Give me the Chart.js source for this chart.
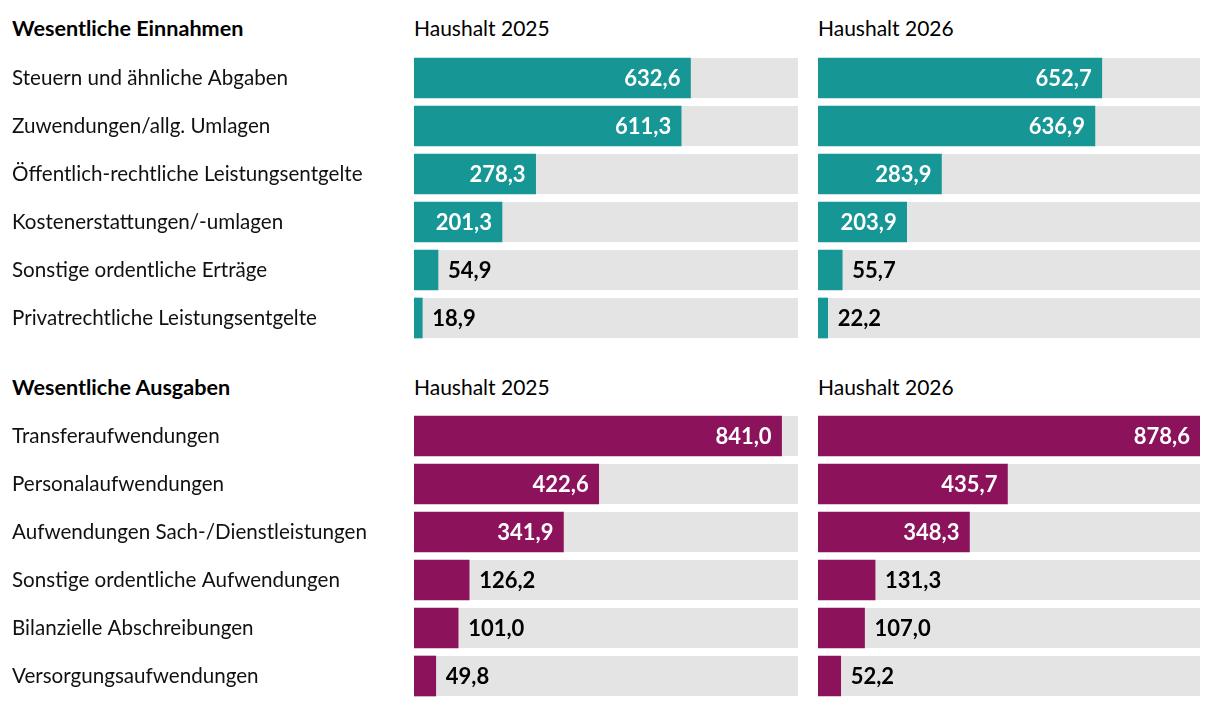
<!DOCTYPE html>
<html>
<head>
<meta charset="utf-8">
<script src="https://cdn.jsdelivr.net/npm/chart.js@4/dist/chart.umd.min.js"></script>
<style>
  body { margin: 0; background: #fff; }
  #wrap { position: relative; width: 1220px; height: 708px; font-family: Lato, sans-serif; color: #000; }
  .head { position: absolute; font-size: 21px; line-height: 24px; white-space: nowrap; }
  .bold { font-weight: bold; font-size: 21.6px; }
  canvas { position: absolute; }
</style>
</head>
<body>
<div id="wrap">
  <div class="head bold" id="t1" style="left:12px;top:16px"></div>
  <div class="head" id="y1a" style="left:414px;top:16px"></div>
  <div class="head" id="y1b" style="left:818px;top:16px"></div>
  <canvas id="c1a" width="798" height="288" style="left:0;top:54px"></canvas>
  <canvas id="c1b" width="382" height="288" style="left:818px;top:54px"></canvas>

  <div class="head bold" id="t2" style="left:12px;top:375px"></div>
  <div class="head" id="y2a" style="left:414px;top:375px"></div>
  <div class="head" id="y2b" style="left:818px;top:375px"></div>
  <canvas id="c2a" width="798" height="288" style="left:0;top:412px"></canvas>
  <canvas id="c2b" width="382" height="288" style="left:818px;top:412px"></canvas>
</div>
<script>
const sectionTitles = ['Wesentliche Einnahmen', 'Wesentliche Ausgaben']
const yearLabels = ['Haushalt 2025', 'Haushalt 2026']

const einnahmenLabels = [
  'Steuern und ähnliche Abgaben',
  'Zuwendungen/allg. Umlagen',
  'Öffentlich-rechtliche Leistungsentgelte',
  'Kostenerstattungen/-umlagen',
  'Sonstige ordentliche Erträge',
  'Privatrechtliche Leistungsentgelte'
]
const einnahmen2025 = [632.6, 611.3, 278.3, 201.3, 54.9, 18.9]
const einnahmen2026 = [652.7, 636.9, 283.9, 203.9, 55.7, 22.2]

const ausgabenLabels = [
  'Transferaufwendungen',
  'Personalaufwendungen',
  'Aufwendungen Sach-/Dienstleistungen',
  'Sonstige ordentliche Aufwendungen',
  'Bilanzielle Abschreibungen',
  'Versorgungsaufwendungen'
]
const ausgaben2025 = [841.0, 422.6, 341.9, 126.2, 101.0, 49.8]
const ausgaben2026 = [878.6, 435.7, 348.3, 131.3, 107.0, 52.2]

const scaleMax = 878.6
const fontFamily = 'Lato, sans-serif'
const teal = '#169694'
const purple = '#8c125c'
const track = '#e4e4e4'

document.getElementById('t1').textContent = sectionTitles[0]
document.getElementById('t2').textContent = sectionTitles[1]
document.getElementById('y1a').textContent = yearLabels[0]
document.getElementById('y1b').textContent = yearLabels[1]
document.getElementById('y2a').textContent = yearLabels[0]
document.getElementById('y2b').textContent = yearLabels[1]

// grey track behind each bar + value labels
const barPlugin = {
  id: 'tracksAndValues',
  beforeDatasetsDraw(chart) {
    const ctx = chart.ctx
    const area = chart.chartArea
    ctx.save()
    ctx.fillStyle = track
    chart.getDatasetMeta(0).data.forEach(bar => {
      ctx.fillRect(area.left, bar.y - bar.height / 2, area.right - area.left, bar.height)
    })
    ctx.restore()
  },
  afterDatasetsDraw(chart) {
    const ctx = chart.ctx
    const values = chart.data.datasets[0].data
    ctx.save()
    ctx.font = 'bold 22px ' + fontFamily
    ctx.textBaseline = 'middle'
    chart.getDatasetMeta(0).data.forEach((bar, i) => {
      const txt = values[i].toFixed(1).replace('.', ',')
      const w = ctx.measureText(txt).width
      if (bar.x - bar.base > w + 24) {
        ctx.fillStyle = '#fff'
        ctx.textAlign = 'right'
        ctx.fillText(txt, bar.x - 10, bar.y + 1)
      } else {
        ctx.fillStyle = '#000'
        ctx.textAlign = 'left'
        ctx.fillText(txt, bar.x + 10, bar.y + 1)
      }
    })
    ctx.restore()
  }
}

function makeChart(id, labels, values, color, showLabels) {
  const yAxis = {
    display: showLabels,
    grid: { display: false, drawTicks: false },
    border: { display: false },
    ticks: { crossAlign: 'far', color: '#111', padding: 0, font: { family: fontFamily, size: 20.6 } }
  }
  if (showLabels) {
    yAxis.afterFit = scale => {
      scale.width = 402
      scale.paddingTop = 0
      scale.paddingBottom = 0
    }
  }
  new Chart(document.getElementById(id), {
    type: 'bar',
    data: {
      labels: labels,
      datasets: [{ data: values, backgroundColor: color, barThickness: 40 }]
    },
    options: {
      indexAxis: 'y',
      responsive: false,
      animation: false,
      layout: { padding: { left: showLabels ? 12 : 0, right: 0, top: 0, bottom: 0 } },
      plugins: { legend: { display: false }, tooltip: { enabled: false } },
      scales: {
        x: { display: false, min: 0, max: scaleMax },
        y: yAxis
      }
    },
    plugins: [barPlugin]
  })
}

makeChart('c1a', einnahmenLabels, einnahmen2025, teal, true)
makeChart('c1b', einnahmenLabels, einnahmen2026, teal, false)
makeChart('c2a', ausgabenLabels, ausgaben2025, purple, true)
makeChart('c2b', ausgabenLabels, ausgaben2026, purple, false)
</script>
</body>
</html>
